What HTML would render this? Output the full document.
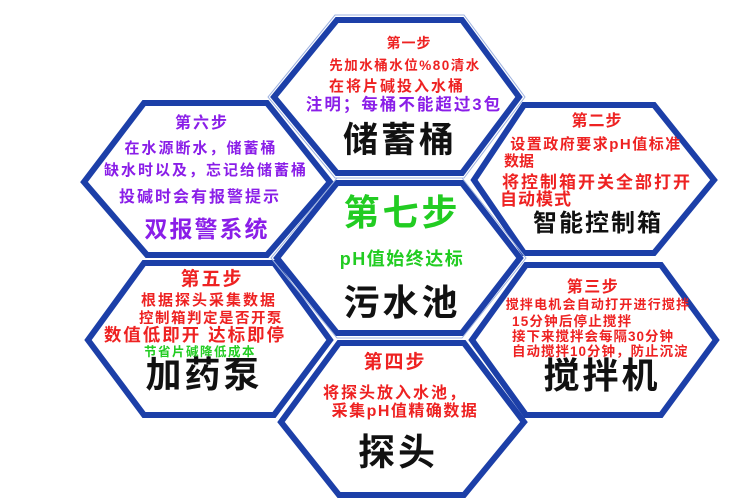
<!DOCTYPE html>
<html><head><meta charset="utf-8"><style>
html,body{margin:0;padding:0;background:#fff;}
svg{display:block}
text{font-family:"Liberation Sans","Noto Sans CJK SC","WenQuanYi Zen Hei",sans-serif;font-weight:bold;text-anchor:middle}
</style></head><body>
<svg width="750" height="500" viewBox="0 0 750 500" xmlns="http://www.w3.org/2000/svg">
<g fill="#fff" stroke="#1c3fa8" stroke-width="6" stroke-linejoin="miter">
<polygon points="337,20 462,20 519,97 462,173 337,173 274,97"/>
<polygon points="144,103 267,103 330,182 267,255 147,255 84,182"/>
<polygon points="524,105 654,105 714,180 654,253 524,253 474,180"/>
<polygon points="337,183 462,183 520,258 462,333 337,333 277,258"/>
<polygon points="144,263 274,263 330,340 274,415 144,415 88,340"/>
<polygon points="526,265 661,265 716,340 661,415 526,415 472,340"/>
<polygon points="339,343 464,343 524,422 464,495 339,495 281,422"/>
</g>
<g fill="none" stroke="#9fb3e0" stroke-width="1">
<polygon points="335,15 464,15 525,97 464,178 335,178 268,97"/>
<polygon points="337,178 462,178 526,258 462,338 337,338 271,258"/>
</g>

<g fill="#ee2222">
<text x="409" y="48" font-size="14" letter-spacing="1">第一步</text>
<text x="405" y="70" font-size="13.5" letter-spacing="1.5">先加水桶水位%80清水</text>
<text x="397" y="91" font-size="15" letter-spacing="2">在将片碱投入水桶</text>
</g>
<text x="404" y="110" font-size="16.5" letter-spacing="2" fill="#8a1ee8">注明；每桶不能超过3包</text>
<text x="400" y="152" font-size="35" letter-spacing="3" fill="#111">储蓄桶</text>

<g fill="#8a1ee8">
<text x="202" y="128" font-size="16" letter-spacing="2">第六步</text>
<text x="201" y="153" font-size="15" letter-spacing="2">在水源断水，储蓄桶</text>
<text x="206" y="175" font-size="15" letter-spacing="2">缺水时以及，忘记给储蓄桶</text>
<text x="200" y="202" font-size="16" letter-spacing="2">投碱时会有报警提示</text>
<text x="207" y="237" font-size="23" letter-spacing="2">双报警系统</text>
</g>

<g fill="#ee2222">
<text x="597" y="126" font-size="16" letter-spacing="1">第二步</text>
<text x="596" y="149" font-size="15" letter-spacing="1.5">设置政府要求pH值标准</text>
<text x="504" y="166" font-size="15" style="text-anchor:start">数据</text>
<text x="597" y="188" font-size="17" letter-spacing="2">将控制箱开关全部打开</text>
<text x="500" y="205" font-size="17" letter-spacing="1" style="text-anchor:start">自动模式</text>
</g>
<text x="598" y="231" font-size="24" letter-spacing="2" fill="#111">智能控制箱</text>

<text x="402" y="225" font-size="36" letter-spacing="3" fill="#22cc22">第七步</text>
<text x="402" y="265" font-size="18" letter-spacing="1.5" fill="#22cc22">pH值始终达标</text>
<text x="402" y="315" font-size="36" letter-spacing="3" fill="#111">污水池</text>

<g fill="#ee2222">
<text x="212" y="285" font-size="19" letter-spacing="2">第五步</text>
<text x="209" y="305" font-size="15" letter-spacing="2">根据探头采集数据</text>
<text x="211" y="323" font-size="14.5" letter-spacing="1.5">控制箱判定是否开泵</text>
<text x="195" y="341" font-size="17.5" letter-spacing="2">数值低即开  达标即停</text>
</g>
<text x="200" y="356" font-size="12.5" letter-spacing="1.5" fill="#22cc22">节省片碱降低成本</text>
<text x="204" y="387" font-size="36" letter-spacing="3" fill="#111">加药泵</text>

<g fill="#ee2222">
<text x="593" y="292" font-size="16" letter-spacing="1.5">第三步</text>
<text x="598" y="309" font-size="13" letter-spacing="1.2">搅拌电机会自动打开进行搅拌</text>
<text x="512" y="326" font-size="13.5" letter-spacing="1.2" style="text-anchor:start">15分钟后停止搅拌</text>
<text x="512" y="341" font-size="13.5" letter-spacing="1" style="text-anchor:start">接下来搅拌会每隔30分钟</text>
<text x="512" y="356" font-size="13.5" letter-spacing="1" style="text-anchor:start">自动搅拌10分钟，防止沉淀</text>
</g>
<text x="602" y="388" font-size="36" letter-spacing="3" fill="#111">搅拌机</text>

<g fill="#ee2222">
<text x="395" y="368" font-size="19" letter-spacing="2">第四步</text>
<text x="395" y="398" font-size="16" letter-spacing="2">将探头放入水池，</text>
<text x="405" y="416" font-size="16" letter-spacing="1.5">采集pH值精确数据</text>
</g>
<text x="398" y="465" font-size="37" letter-spacing="3" fill="#111">探头</text>
</svg>
</body></html>
